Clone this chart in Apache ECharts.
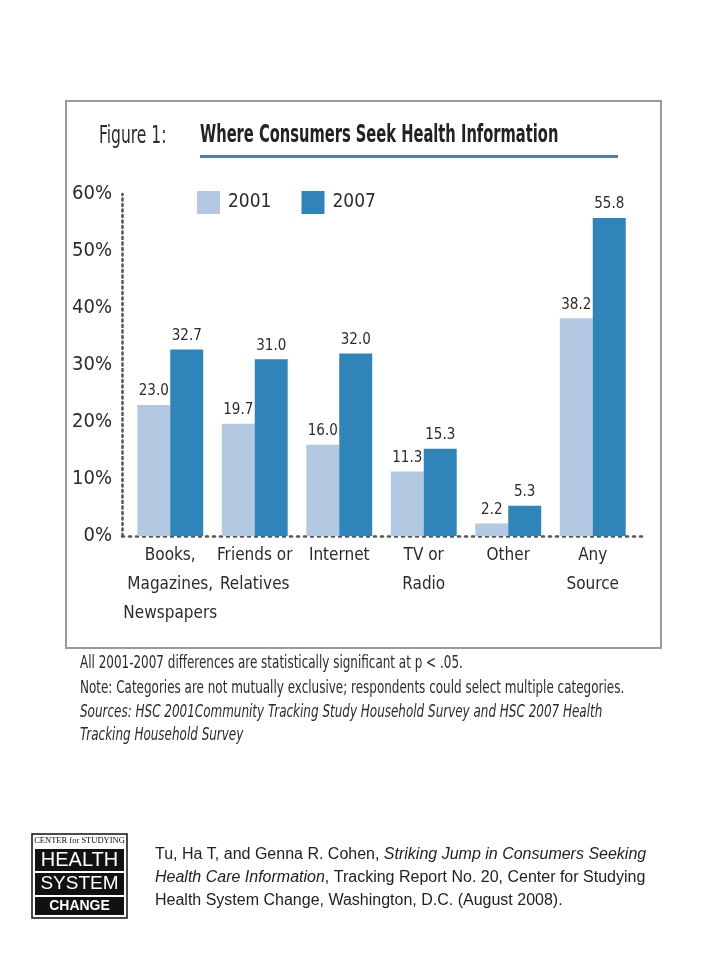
<!DOCTYPE html>
<html><head><meta charset="utf-8">
<script src="https://cdn.jsdelivr.net/npm/echarts@6/dist/echarts.min.js"></script>
<style>html,body{margin:0;padding:0;background:#fff;}#c{width:720px;height:960px;}</style>
</head><body><div id="c"></div>
<script>
const categories = ['Books,\nMagazines,\nNewspapers', 'Friends or\nRelatives', 'Internet', 'TV or\nRadio', 'Other', 'Any\nSource'];
const values2001 = [23.0, 19.7, 16.0, 11.3, 2.2, 38.2];
const values2007 = [32.7, 31.0, 32.0, 15.3, 5.3, 55.8];
const seriesNames = ['2001', '2007'];
const yTicks = [0, 10, 20, 30, 40, 50, 60];

const COND = '"Liberation Sans Narrow","DejaVu Sans Condensed","Roboto Condensed","Arial Narrow",sans-serif';
const LIGHT = '#b3c8e1';
const DARK = '#2f84b9';
const TXT = '#2b2b2b';

const chart = echarts.init(document.getElementById('c'), null, {renderer: 'canvas'});
const gridTop = 194, gridBottom = 424;

function narrowText(x, y, text, size, sx, extra) {
  return Object.assign({type: 'text', x: x, y: y, scaleX: sx,
    style: Object.assign({text: text, fontFamily: COND, fontSize: size, fill: TXT}, extra || {})});
}

const option = {
  backgroundColor: '#ffffff',
  animation: false,
  legend: {
    left: 192, top: 186,
    itemWidth: 23, itemHeight: 23, itemGap: 30,
    icon: 'rect',
    data: seriesNames,
    textStyle: {fontFamily: COND, fontSize: 19, color: TXT, padding: [0, 0, 0, 3]}
  },
  grid: [
    {left: 128, right: 85, top: gridTop, bottom: gridBottom},
    {left: 122, right: 75, top: gridTop, bottom: gridBottom}
  ],
  xAxis: [
    {
      type: 'category', gridIndex: 0, data: categories,
      axisLine: {show: false}, axisTick: {show: false},
      axisLabel: {fontFamily: COND, fontSize: 17, color: TXT, lineHeight: 29, margin: 5, interval: 0, verticalAlign: 'top'}
    },
    {
      type: 'value', gridIndex: 1, min: 0, max: 1,
      axisLine: {show: true, lineStyle: {color: '#555', type: [2, 5], width: 2.5}},
      axisTick: {show: false}, axisLabel: {show: false}, splitLine: {show: false}
    }
  ],
  yAxis: [
    {
      type: 'value', gridIndex: 0, min: 0, max: 60, interval: 10,
      axisLine: {show: false}, axisTick: {show: false}, axisLabel: {show: false}, splitLine: {show: false}
    },
    {
      type: 'value', gridIndex: 1, min: yTicks[0], max: yTicks[yTicks.length - 1], interval: 10,
      axisLine: {show: true, lineStyle: {color: '#555', type: [2, 3.5], width: 2.5}},
      axisTick: {show: false}, splitLine: {show: false},
      axisLabel: {fontFamily: COND, fontSize: 20, color: TXT, margin: 10, formatter: '{value}%'}
    }
  ],
  series: [
    {
      name: seriesNames[0], type: 'bar', xAxisIndex: 0, yAxisIndex: 0,
      data: values2001, barGap: '0%', barCategoryGap: '22%',
      itemStyle: {color: LIGHT},
      label: {show: true, position: 'top', distance: 6, fontFamily: COND, fontSize: 15, color: TXT,
        formatter: p => p.value.toFixed(1)}
    },
    {
      name: seriesNames[1], type: 'bar', xAxisIndex: 0, yAxisIndex: 0,
      data: values2007, barGap: '0%', barCategoryGap: '22%',
      itemStyle: {color: DARK},
      label: {show: true, position: 'top', distance: 6, fontFamily: COND, fontSize: 15, color: TXT,
        formatter: p => p.value.toFixed(1)}
    }
  ],
  graphic: [
    {type: 'rect', z: -1, shape: {x: 66, y: 101, width: 595, height: 547},
      style: {fill: 'none', stroke: '#9a9a9a', lineWidth: 2}},
    narrowText(99, 125, 'Figure 1:', 24, 0.72),
    narrowText(200, 124, 'Where Consumers Seek Health Information', 24, 0.68, {fontWeight: 'bold', fill: '#222'}),
    {type: 'rect', shape: {x: 200, y: 155, width: 418, height: 3}, style: {fill: '#4d82ad'}},
    narrowText(80, 654, 'All 2001-2007 differences are statistically significant at p < .05.', 18, 0.74),
    narrowText(80, 679, 'Note: Categories are not mutually exclusive; respondents could select multiple categories.', 18, 0.74),
    narrowText(80, 703, 'Sources: HSC 2001Community Tracking Study Household Survey and HSC 2007 Health', 18, 0.74, {fontStyle: 'italic'}),
    narrowText(80, 726, 'Tracking Household Survey', 18, 0.74, {fontStyle: 'italic'}),
    // logo
    {type: 'rect', shape: {x: 32, y: 834, width: 95, height: 84}, style: {fill: '#fff', stroke: '#111', lineWidth: 1.5}},
    {type: 'text', x: 79.5, y: 841, style: {text: 'CENTER for STUDYING', fontFamily: '"Liberation Serif",serif', fontSize: 8.5, fill: '#111', align: 'center', verticalAlign: 'middle'}},
    {type: 'rect', shape: {x: 35, y: 849, width: 89, height: 22}, style: {fill: '#111'}},
    {type: 'text', x: 79.5, y: 860, style: {text: 'HEALTH', fontFamily: '"Liberation Sans",sans-serif', fontSize: 20, fill: '#fff', align: 'center', verticalAlign: 'middle'}},
    {type: 'rect', shape: {x: 35, y: 873, width: 89, height: 22}, style: {fill: '#111'}},
    {type: 'text', x: 79.5, y: 884, style: {text: 'SYSTEM', fontFamily: '"Liberation Sans",sans-serif', fontSize: 19, fill: '#fff', align: 'center', verticalAlign: 'middle'}},
    {type: 'rect', shape: {x: 35, y: 897, width: 89, height: 18}, style: {fill: '#111'}},
    {type: 'text', x: 79.5, y: 906.5, style: {text: 'CHANGE', fontFamily: '"Liberation Sans",sans-serif', fontSize: 14, fontWeight: 'bold', fill: '#fff', align: 'center', verticalAlign: 'middle'}},
    // citation
    {type: 'text', left: 155, top: 847, style: {rich: {n: {fontFamily: '"Liberation Sans",Arial,sans-serif', fontSize: 16, fill: '#222'}, i: {fontFamily: '"Liberation Sans",Arial,sans-serif', fontSize: 16, fontStyle: 'italic', fill: '#222'}},
      text: '{n|Tu, Ha T, and Genna R. Cohen, }{i|Striking Jump in Consumers Seeking}'}},
    {type: 'text', left: 155, top: 870, style: {rich: {n: {fontFamily: '"Liberation Sans",Arial,sans-serif', fontSize: 16, fill: '#222'}, i: {fontFamily: '"Liberation Sans",Arial,sans-serif', fontSize: 16, fontStyle: 'italic', fill: '#222'}},
      text: '{i|Health Care Information}{n|, Tracking Report No. 20, Center for Studying}'}},
    {type: 'text', left: 155, top: 893, style: {text: 'Health System Change, Washington, D.C. (August 2008).', fontFamily: '"Liberation Sans",Arial,sans-serif', fontSize: 16, fill: '#222'}}
  ]
};
chart.setOption(option);
</script>
</body></html>
